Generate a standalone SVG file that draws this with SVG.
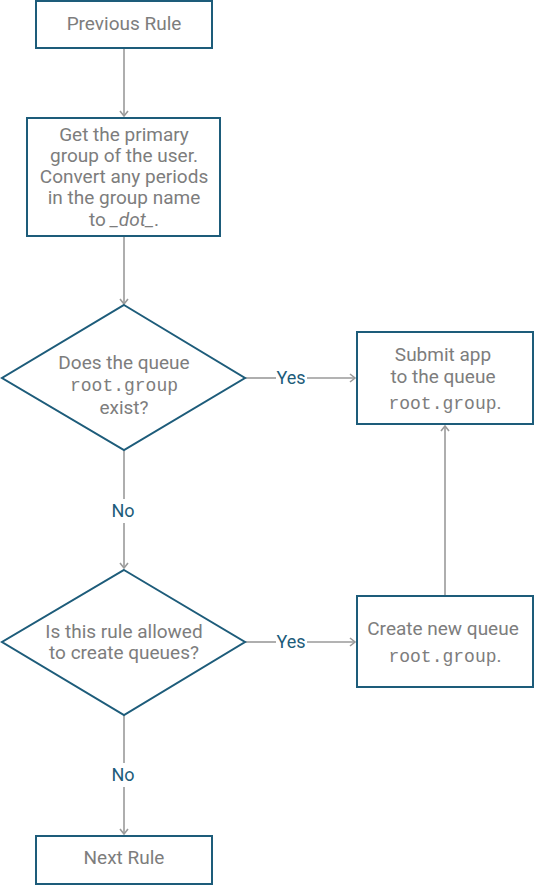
<svg xmlns="http://www.w3.org/2000/svg" width="534" height="885" viewBox="0 0 534 885">
<style>
.box{fill:#fff;stroke:#1d5c7a;stroke-width:2}
.t{font-family:Roboto,"Liberation Sans",sans-serif;font-size:19px;fill:#7d7d7d;text-anchor:middle}
.m{font-family:"Liberation Mono",monospace;font-size:18px;fill:#7d7d7d}
.lbl{font-family:Roboto,"Liberation Sans",sans-serif;font-size:18px;fill:#1d5c7a;text-anchor:middle}
.c{fill:none;stroke:#9a9a9a;stroke-width:1.6}
</style>
<defs>
<marker id="a" markerWidth="10" markerHeight="10" refX="8" refY="5" orient="auto" markerUnits="userSpaceOnUse">
<path d="M3,1 L8,5 L3,9" fill="none" stroke="#9a9a9a" stroke-width="1.6"/>
</marker>
</defs>
<rect width="534" height="885" fill="#fff"/>
<g id="connectors">
<line class="c" x1="124" y1="48" x2="124" y2="116" marker-end="url(#a)"/>
<line class="c" x1="124" y1="236" x2="124" y2="304" marker-end="url(#a)"/>
<line class="c" x1="245" y1="378" x2="276" y2="378"/>
<line class="c" x1="307" y1="378" x2="355" y2="378" marker-end="url(#a)"/>
<text class="lbl" x="291" y="384">Yes</text>
<line class="c" x1="124" y1="450" x2="124" y2="499"/>
<line class="c" x1="124" y1="523" x2="124" y2="568" marker-end="url(#a)"/>
<text class="lbl" x="123" y="517">No</text>
<line class="c" x1="245" y1="642" x2="276" y2="642"/>
<line class="c" x1="307" y1="642" x2="355" y2="642" marker-end="url(#a)"/>
<text class="lbl" x="291" y="648">Yes</text>
<line class="c" x1="445" y1="596" x2="445" y2="426" marker-end="url(#a)"/>
<line class="c" x1="124" y1="715" x2="124" y2="763"/>
<line class="c" x1="124" y1="787" x2="124" y2="834" marker-end="url(#a)"/>
<text class="lbl" x="123" y="781">No</text>
</g>
<g id="previous">
<rect class="box" x="36" y="1" width="176" height="47"/>
<text class="t" x="124" y="30">Previous Rule</text>
</g>
<g id="getgroup">
<rect class="box" x="27" y="118" width="193" height="118"/>
<text class="t" x="124" y="141">Get the primary</text>
<text class="t" x="124" y="162">group of the user.</text>
<text class="t" x="124" y="183">Convert any periods</text>
<text class="t" x="124" y="204">in the group name</text>
<text class="t" x="124" y="226">to <tspan font-style="italic">_dot_</tspan>.</text>
</g>
<g id="exists">
<polygon class="box" points="124,305 245,378 124,450 2,378"/>
<text class="t" x="124" y="369">Does the queue</text>
<text class="t m" x="124" y="391">root.group</text>
<text class="t" x="124" y="414">exist?</text>
</g>
<g id="submit">
<rect class="box" x="357" y="332" width="176" height="92"/>
<text class="t" x="443" y="361">Submit app</text>
<text class="t" x="443" y="383">to the queue</text>
<text class="t" x="445" y="409"><tspan class="m">root.group</tspan>.</text>
</g>
<g id="allowed">
<polygon class="box" points="124,570 245,642 124,715 2,642"/>
<text class="t" x="124" y="638">Is this rule allowed</text>
<text class="t" x="124" y="659">to create queues?</text>
</g>
<g id="create">
<rect class="box" x="357" y="596" width="176" height="91"/>
<text class="t" x="443" y="635">Create new queue</text>
<text class="t" x="445" y="662"><tspan class="m">root.group</tspan>.</text>
</g>
<g id="next">
<rect class="box" x="36" y="836" width="176" height="48"/>
<text class="t" x="124" y="864">Next Rule</text>
</g>
</svg>
